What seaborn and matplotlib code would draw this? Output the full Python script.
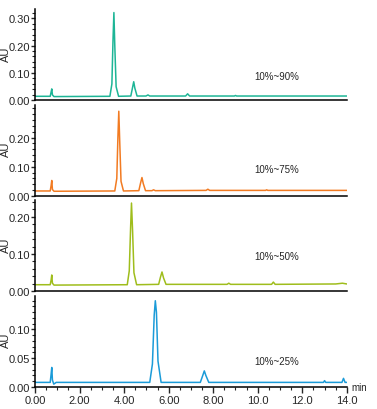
import pandas as pd
import seaborn as sns
import matplotlib.pyplot as plt
from matplotlib.ticker import MultipleLocator, FixedLocator, FixedFormatter
from matplotlib.transforms import blended_transform_factory

# gradient labels, top to bottom
gradients = ['10%~90%', '10%~75%', '10%~50%', '10%~25%']
colors = ['#1db596', '#f27b22', '#9fbd1c', '#1b9bd8']

# chromatogram vertices (time in min, absorbance in AU)
t_90 = [0.0, 0.68, 0.72, 0.75, 0.78, 0.85, 3.36, 3.45, 3.50, 3.54, 3.58, 3.64, 3.75,
        4.30, 4.38, 4.43, 4.48, 4.58, 4.98, 5.07, 5.15, 6.76, 6.85, 6.94, 8.95, 9.0, 9.05, 14.0]
au_90 = [0.015, 0.015, 0.030, 0.042, 0.020, 0.014, 0.015, 0.060, 0.220, 0.320, 0.200, 0.050, 0.015,
         0.016, 0.048, 0.068, 0.045, 0.016, 0.016, 0.020, 0.016, 0.016, 0.024, 0.016, 0.016, 0.018, 0.016, 0.016]

t_75 = [0.0, 0.68, 0.72, 0.75, 0.78, 0.85, 3.58, 3.67, 3.72, 3.76, 3.80, 3.86, 3.97,
        4.66, 4.74, 4.80, 4.86, 4.96, 5.25, 5.32, 5.40, 7.68, 7.76, 7.84, 10.35, 10.4, 10.45, 14.0]
au_75 = [0.017, 0.017, 0.035, 0.053, 0.022, 0.016, 0.017, 0.060, 0.200, 0.290, 0.190, 0.050, 0.017,
         0.018, 0.045, 0.063, 0.042, 0.018, 0.018, 0.021, 0.018, 0.019, 0.023, 0.019, 0.019, 0.021, 0.019, 0.019]

t_50 = [0.0, 0.68, 0.72, 0.75, 0.78, 0.85, 4.14, 4.23, 4.29, 4.33, 4.38, 4.44, 4.56,
        5.55, 5.63, 5.70, 5.77, 5.88, 8.62, 8.70, 8.78, 10.62, 10.70, 10.78, 13.5, 13.8, 14.0]
au_50 = [0.018, 0.018, 0.030, 0.044, 0.022, 0.017, 0.018, 0.055, 0.170, 0.236, 0.160, 0.050, 0.018,
         0.019, 0.038, 0.052, 0.036, 0.019, 0.019, 0.022, 0.019, 0.019, 0.025, 0.019, 0.020, 0.022, 0.020]

t_25 = [0.0, 0.68, 0.72, 0.75, 0.78, 0.84, 0.95, 5.15, 5.27, 5.35, 5.40, 5.45, 5.52, 5.66,
        7.42, 7.53, 7.60, 7.67, 7.80, 12.95, 13.0, 13.05, 13.78, 13.85, 13.92, 14.0]
au_25 = [0.008, 0.008, 0.022, 0.034, 0.012, 0.005, 0.008, 0.008, 0.040, 0.125, 0.150, 0.130, 0.045, 0.008,
         0.008, 0.020, 0.028, 0.020, 0.008, 0.008, 0.011, 0.008, 0.008, 0.015, 0.008, 0.008]

times = [t_90, t_75, t_50, t_25]
signals = [au_90, au_75, au_50, au_25]
y_max = [0.333, 0.313, 0.244, 0.159]
y_ticks = [[0.0, 0.10, 0.20, 0.30], [0.0, 0.10, 0.20], [0.0, 0.10, 0.20], [0.0, 0.05, 0.10]]
y_minor = [0.02, 0.02, 0.02, 0.01]
label_y = [0.27, 0.29, 0.39, 0.28]

x_ticks = [0, 2, 4, 6, 8, 10, 12, 14]
x_ticklabels = ['0.00', '2.00', '4.00', '6.00', '8.00', '10.0', '12.0', '14.0']

sns.set_style('ticks')
plt.rcParams['font.family'] = ['Liberation Sans', 'DejaVu Sans']
plt.rcParams['font.size'] = 8

fig, axes = plt.subplots(4, 1, figsize=(3.77, 4.10), dpi=100, sharex=True,
                         gridspec_kw=dict(left=0.093, right=0.920, top=0.9756,
                                          bottom=0.0537, hspace=0.045))

for i, ax in enumerate(axes):
    df = pd.DataFrame({'min': times[i], 'AU': signals[i]})
    sns.lineplot(data=df, x='min', y='AU', ax=ax, color=colors[i], linewidth=1.1,
                 sort=False, estimator=None)
    ax.set_xlim(0, 14)
    ax.set_ylim(0, y_max[i])
    ax.yaxis.set_major_locator(FixedLocator(y_ticks[i]))
    ax.yaxis.set_minor_locator(MultipleLocator(y_minor[i]))
    ax.yaxis.set_major_formatter(plt.FormatStrFormatter('%.2f'))
    ax.tick_params(axis='y', which='major', length=3, width=1, labelsize=8, pad=0.5)
    ax.tick_params(axis='y', which='minor', length=2, width=0.8)
    ax.set_ylabel('AU', fontsize=8)
    ax.yaxis.set_label_coords(-0.078, 0.52)
    ax.set_xlabel('')
    for s in ['left', 'bottom']:
        ax.spines[s].set_linewidth(1.1)
        ax.spines[s].set_color('black')
    sns.despine(ax=ax)
    tr = blended_transform_factory(ax.transData, ax.transAxes)
    ax.text(10.85, label_y[i], gradients[i], transform=tr, ha='center', va='center', fontsize=7)
    if i < 3:
        ax.tick_params(axis='x', which='both', length=0, labelbottom=False)

bottom = axes[-1]
bottom.xaxis.set_major_locator(FixedLocator(x_ticks))
bottom.xaxis.set_major_formatter(FixedFormatter(x_ticklabels))
bottom.xaxis.set_minor_locator(MultipleLocator(0.5))
bottom.tick_params(axis='x', which='major', length=4, width=1, labelsize=8, pad=2)
bottom.tick_params(axis='x', which='minor', length=2, width=0.8)
bottom.text(1.015, 0.0, 'min', transform=bottom.transAxes, ha='left', va='center', fontsize=7)

fig.savefig('out.png', dpi=100)
